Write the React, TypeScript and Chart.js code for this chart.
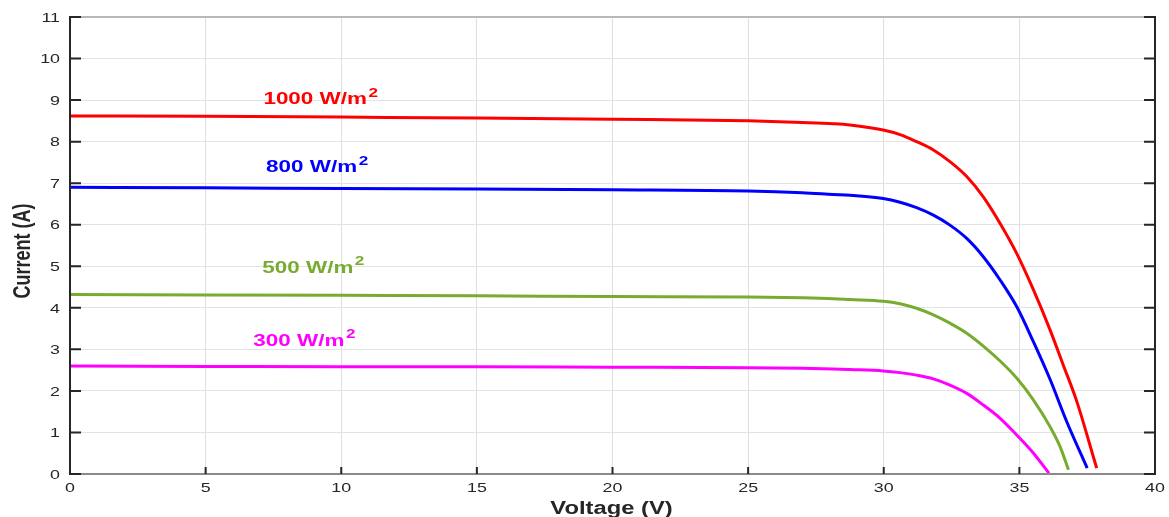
import React, { useEffect, useRef } from "react";
import { Chart, registerables } from "chart.js";

Chart.register(...registerables);

// ---- Data ----
const xTicks = [0, 5, 10, 15, 20, 25, 30, 35, 40];
const yTicks = [0, 1, 2, 3, 4, 5, 6, 7, 8, 9, 10, 11];

const V1000 = [0, 5, 10, 15, 20, 25, 27, 28.14, 28.76, 29.98, 30.6, 31.21, 31.83, 32.44, 33.06, 33.67, 34.29, 34.9, 35.52, 36.13, 36.62, 37.11, 37.85];
const I1000 = [8.62, 8.61, 8.59, 8.57, 8.54, 8.5, 8.46, 8.43, 8.4, 8.28, 8.17, 8.0, 7.8, 7.52, 7.16, 6.67, 6.03, 5.31, 4.43, 3.47, 2.62, 1.76, 0.14];

const V800 = [0, 5, 10, 15, 20, 25, 27, 28.14, 28.76, 29.98, 30.6, 31.21, 31.83, 32.44, 33.06, 33.67, 34.29, 34.9, 35.52, 36.13, 36.74, 37.5];
const I800 = [6.9, 6.89, 6.87, 6.86, 6.84, 6.81, 6.77, 6.73, 6.71, 6.63, 6.54, 6.41, 6.23, 5.99, 5.67, 5.23, 4.67, 4.03, 3.18, 2.28, 1.27, 0.14];

const V500 = [0, 5, 10, 15, 20, 25, 27, 28.14, 28.76, 29.98, 30.6, 31.21, 31.83, 32.44, 33.06, 33.67, 34.29, 34.9, 35.52, 36.13, 36.5, 36.81];
const I500 = [4.32, 4.31, 4.3, 4.29, 4.27, 4.26, 4.24, 4.22, 4.2, 4.16, 4.1, 3.99, 3.83, 3.63, 3.39, 3.08, 2.72, 2.31, 1.78, 1.14, 0.66, 0.1];

const V300 = [0, 5, 10, 15, 20, 25, 27, 28.14, 28.76, 29.98, 30.6, 31.21, 31.83, 32.44, 33.06, 33.67, 34.29, 34.9, 35.52, 36.09];
const I300 = [2.6, 2.59, 2.58, 2.58, 2.57, 2.56, 2.545, 2.53, 2.515, 2.48, 2.44, 2.38, 2.29, 2.14, 1.94, 1.66, 1.34, 0.94, 0.5, 0.02];

const seriesNames = ["1000 W/m", "800 W/m", "500 W/m", "300 W/m"];
const seriesColors = ["#ff0000", "#0000ff", "#77ac30", "#ff00ff"];
// label anchor (left edge, baseline) in data coordinates
const labelV = [7.13, 7.23, 7.09, 6.76];
const labelI = [8.9, 7.26, 4.85, 3.09];

const xTitle = "Voltage (V)";
const yTitle = "Current (A)";

const FONT = "'Liberation Sans', Arial, Helvetica, sans-serif";
const SX = 1.32; // horizontal stretch of the reference's text

function pts(v: number[], i: number[]) {
  return v.map((x, k) => ({ x, y: i[k] }));
}

function stretchedText(
  ctx: CanvasRenderingContext2D,
  text: string,
  x: number,
  y: number,
  align: CanvasTextAlign,
  baseline: CanvasTextBaseline
) {
  ctx.save();
  ctx.translate(x, y);
  ctx.scale(SX, 1);
  ctx.textAlign = align;
  ctx.textBaseline = baseline;
  ctx.fillText(text, 0, 0);
  ctx.restore();
}

const framePlugin = {
  id: "frame",
  afterDraw(chart: any) {
    const ctx: CanvasRenderingContext2D = chart.ctx;
    const xs = chart.scales.x;
    const ys = chart.scales.y;
    const { left, right, top, bottom } = chart.chartArea;
    ctx.save();

    // box
    ctx.lineWidth = 2;
    ctx.strokeStyle = "#b8b8b8";
    ctx.beginPath();
    ctx.moveTo(left, top);
    ctx.lineTo(right, top);
    ctx.stroke();
    ctx.strokeStyle = "#8a8a8a";
    ctx.beginPath();
    ctx.moveTo(left, bottom);
    ctx.lineTo(right, bottom);
    ctx.stroke();
    ctx.strokeStyle = "#262626";
    ctx.beginPath();
    ctx.moveTo(left, top - 1);
    ctx.lineTo(left, bottom + 1);
    ctx.moveTo(right, top - 1);
    ctx.lineTo(right, bottom + 1);
    ctx.stroke();

    // ticks (inward)
    ctx.lineWidth = 2;
    ctx.strokeStyle = "#262626";
    ctx.beginPath();
    for (const t of yTicks) {
      const py = ys.getPixelForValue(t);
      ctx.moveTo(left, py);
      ctx.lineTo(left + 11, py);
      ctx.moveTo(right, py);
      ctx.lineTo(right - 11, py);
    }
    for (const t of xTicks) {
      const px = xs.getPixelForValue(t);
      ctx.moveTo(px, bottom);
      ctx.lineTo(px, bottom - 7);
    }
    ctx.stroke();

    // tick labels
    ctx.fillStyle = "#262626";
    ctx.font = `13.5px ${FONT}`;
    for (const t of yTicks) {
      stretchedText(ctx, String(t), left - 10, ys.getPixelForValue(t) + 1, "right", "middle");
    }
    for (const t of xTicks) {
      stretchedText(ctx, String(t), xs.getPixelForValue(t), bottom + 8, "center", "top");
    }

    // axis titles
    ctx.font = `bold 18px ${FONT}`;
    stretchedText(ctx, xTitle, (left + right) / 2 - 1, 514, "center", "alphabetic");
    ctx.save();
    ctx.translate(30, 251);
    ctx.rotate(-Math.PI / 2);
    ctx.scale(1, SX);
    ctx.textAlign = "center";
    ctx.textBaseline = "alphabetic";
    ctx.fillText(yTitle, 0, 0);
    ctx.restore();

    // series labels with superscript
    for (let k = 0; k < seriesNames.length; k++) {
      const px = xs.getPixelForValue(labelV[k]);
      const py = ys.getPixelForValue(labelI[k]);
      ctx.fillStyle = seriesColors[k];
      ctx.font = `bold 17px ${FONT}`;
      const w = ctx.measureText(seriesNames[k]).width * SX;
      stretchedText(ctx, seriesNames[k], px, py, "left", "alphabetic");
      ctx.font = `bold 13px ${FONT}`;
      stretchedText(ctx, "2", px + w + 1.5, py - 7.5, "left", "alphabetic");
    }
    ctx.restore();
  },
};

export default function App() {
  const ref = useRef<HTMLCanvasElement | null>(null);

  useEffect(() => {
    if (!ref.current) return;
    const vs = [V1000, V800, V500, V300];
    const is = [I1000, I800, I500, I300];
    const chart = new Chart(ref.current, {
      type: "scatter",
      data: {
        datasets: vs.map((v, k) => ({
          label: seriesNames[k] + "²",
          data: pts(v, is[k]),
          showLine: true,
          borderColor: seriesColors[k],
          backgroundColor: seriesColors[k],
          borderWidth: 3,
          pointRadius: 0,
          cubicInterpolationMode: "monotone" as const,
          borderCapStyle: "butt" as const,
          borderJoinStyle: "round" as const,
        })),
      },
      options: {
        animation: false,
        responsive: false,
        maintainAspectRatio: false,
        devicePixelRatio: 1,
        layout: { padding: { top: 17, right: 14, left: 0, bottom: 0 } },
        plugins: { legend: { display: false }, tooltip: { enabled: false } },
        scales: {
          x: {
            type: "linear",
            min: 0,
            max: 40,
            ticks: { display: false, stepSize: 5 },
            afterBuildTicks: (s: any) => {
              s.ticks = xTicks.map((v) => ({ value: v }));
            },
            afterFit: (s: any) => {
              s.height = 43;
            },
            grid: { color: "#dedede", lineWidth: 1, drawTicks: false },
            border: { display: false },
          },
          y: {
            type: "linear",
            min: 0,
            max: 11,
            ticks: { display: false, stepSize: 1 },
            afterBuildTicks: (s: any) => {
              s.ticks = yTicks.map((v) => ({ value: v }));
            },
            afterFit: (s: any) => {
              s.width = 70;
            },
            grid: { color: "#e3e3e3", lineWidth: 1, drawTicks: false },
            border: { display: false },
          },
        },
      },
      plugins: [framePlugin],
    });
    return () => chart.destroy();
  }, []);

  return (
    <div style={{ position: "absolute", left: 0, top: 0, width: 1169, height: 517, background: "#fff" }}>
      <canvas ref={ref} width={1169} height={517} style={{ display: "block" }} />
    </div>
  );
}
